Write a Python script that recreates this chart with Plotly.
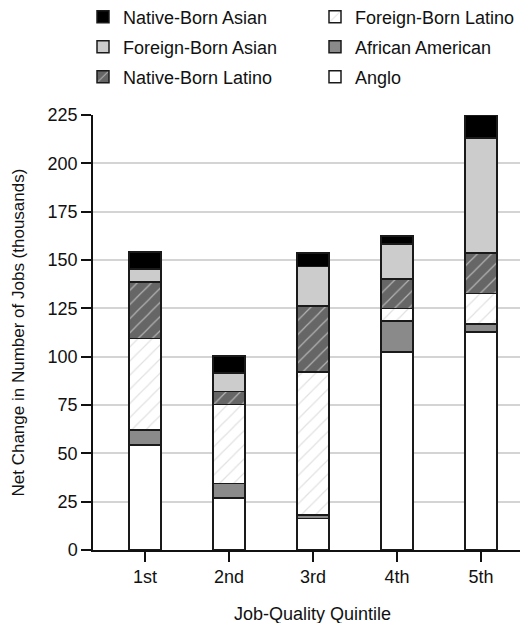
import plotly.graph_objects as go

quintiles = ["1st", "2nd", "3rd", "4th", "5th"]
anglo = [54.2, 26.8, 16.4, 102.5, 112.7]
african_american = [7.8, 7.6, 1.7, 15.9, 4.3]
foreign_born_latino = [47.5, 40.9, 74.0, 6.5, 15.7]
native_born_latino = [29.2, 6.7, 34.0, 15.2, 21.0]
foreign_born_asian = [6.7, 9.5, 20.6, 18.1, 59.4]
native_born_asian = [8.8, 8.8, 7.0, 4.2, 11.9]

W, H = 528, 623
FONT = "Liberation Sans, Arial, Helvetica, sans-serif"
FS = 18
OUTLINE = "#1a1a1a"

series = [
    ("Anglo", anglo, dict(color="white"), "legend6"),
    ("African American", african_american, dict(color="#8a8a8a"), "legend4"),
    ("Foreign-Born Latino", foreign_born_latino,
     dict(color="white", pattern=dict(shape="/", fgcolor="#c4c4c4", bgcolor="white", size=10, solidity=0.12)), "legend2"),
    ("Native-Born Latino", native_born_latino,
     dict(color="#666666", pattern=dict(shape="/", fgcolor="white", bgcolor="#666666", size=10, solidity=0.12)), "legend5"),
    ("Foreign-Born Asian", foreign_born_asian, dict(color="#cccccc"), "legend3"),
    ("Native-Born Asian", native_born_asian, dict(color="black"), "legend"),
]

fig = go.Figure()
for name, vals, mk, lg in series:
    m = dict(mk)
    m["line"] = dict(color=OUTLINE, width=1.5)
    fig.add_trace(go.Bar(x=quintiles, y=vals, name=name, marker=m, width=0.385, legend=lg))

# legend anchor positions in figure pixels (x of item origin, y of row center)
pos = {
    "legend": (75, 9), "legend2": (307, 9),
    "legend3": (75, 39), "legend4": (307, 39),
    "legend5": (75, 69), "legend6": (307, 69),
}
legends = {}
for k, (px, py) in pos.items():
    legends[k] = dict(
        xref="container", yref="container",
        x=px / W, y=1 - py / H, xanchor="left", yanchor="middle",
        font=dict(family=FONT, size=FS, color="#111"),
        bgcolor="rgba(0,0,0,0)", borderwidth=0,
    )

fig.update_layout(
    width=W, height=H,
    margin=dict(l=85, r=0, t=107, b=81, autoexpand=False),
    paper_bgcolor="white", plot_bgcolor="white",
    barmode="stack",
    font=dict(family=FONT, size=FS, color="#111"),
    showlegend=True,
    annotations=[
        dict(text="Net Change in Number of Jobs (thousands)", textangle=-90,
             xref="paper", yref="paper", x=0, y=0.5, xanchor="center", yanchor="middle",
             xshift=-75, showarrow=False, font=dict(family=FONT, size=17, color="#111")),
        dict(text="Job-Quality Quintile",
             xref="x", yref="paper", x=2, y=0, xanchor="center", yanchor="middle",
             yshift=-64, showarrow=False, font=dict(family=FONT, size=FS, color="#111")),
    ],
    **legends,
)
fig.update_xaxes(
    range=[-0.619, 4.655], showgrid=False, automargin=False,
    showline=True, linecolor="#111", linewidth=1.5,
    ticks="outside", ticklen=10, tickwidth=1.5, tickcolor="#111",
    tickfont=dict(size=FS), tickangle=0,
)
fig.update_yaxes(
    range=[0, 225], dtick=25, tick0=0, automargin=False,
    showgrid=True, gridcolor="#d4d4d4", gridwidth=1.5,
    showline=True, linecolor="#111", linewidth=1.5,
    ticks="outside", ticklen=10, tickwidth=1.5, tickcolor="#111",
    tickfont=dict(size=FS), zeroline=False,
)

fig.write_html("out.html")
